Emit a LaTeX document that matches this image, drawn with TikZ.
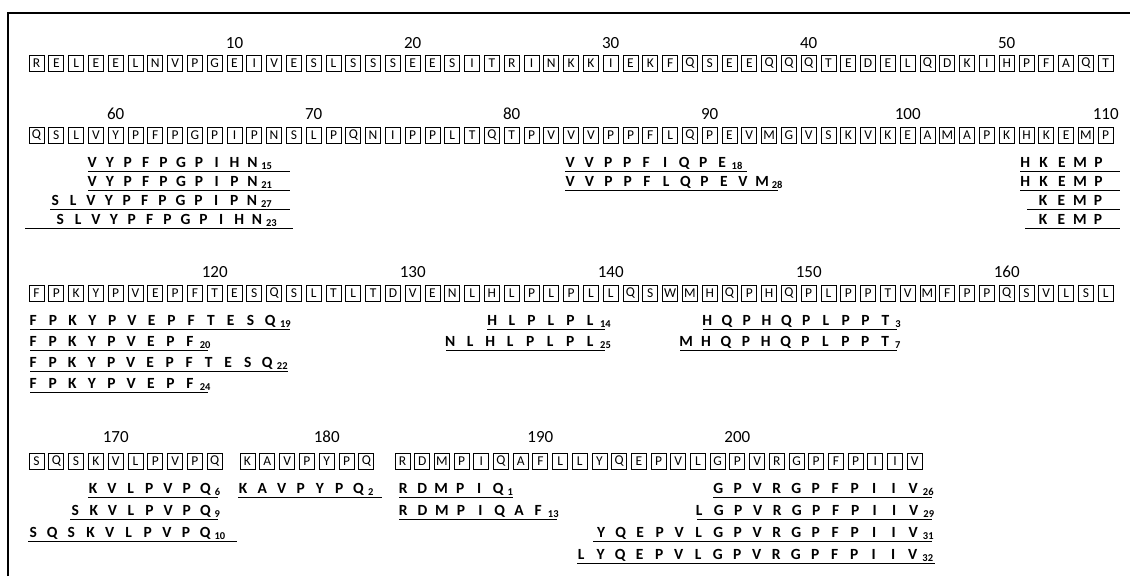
\documentclass[tikz,border=0pt]{standalone}
\usepackage{fontspec}
\setmainfont{Carlito}
\newlength\pitchlen
\def\splA#1{\ifx#1\relax\else\makebox[\pitchlen]{#1}\expandafter\splA\fi}
\newcommand\spl[1]{\splA#1\relax}
\newcommand\subsz{\fontsize{10.5}{10.5}\selectfont}
\tikzset{
  aa/.style={draw, line width=0.9pt, minimum width=15pt, minimum height=16pt, inner sep=0pt, font=\fontsize{13.5}{13.5}\selectfont},
  lbl/.style={inner sep=0pt, font=\fontsize{17}{17}\selectfont},
  pep/.style={anchor=base west, inner sep=0pt, font=\fontsize{15.5}{15.5}\selectfont\bfseries},
  ul/.style={line width=1.3pt},
  frame/.style={line width=2.5pt}
}
\newcommand\boxrow[5]{\foreach \c [count=\i] in {#5} {\node[aa] (#1-\i) at ({#2+7.5+(\i-1)*#3},#4) {\c};}}
\newcommand\pep[8]{%
  \setlength\pitchlen{#3pt}%
  \node[pep] (#1) at ({#2-#3/2},{#4+5}) {\spl{#5}\raisebox{-2.5pt}{\subsz #6}};
  \draw[ul] (#7,{#4+9.5}) -- (#8,{#4+9.5});
}
\begin{document}
\begin{tikzpicture}[x=1pt,y=-1pt]
\useasboundingbox (0,0) rectangle (1130,576);
\draw[frame] (8,576) -- (8,13) -- (1130,13);
% row 1
\boxrow{r1}{29}{19.8}{63}{R,E,L,E,E,L,N,V,P,G,E,I,V,E,S,L,S,S,S,E,E,S,I,T,R,I,N,K,K,I,E,K,F,Q,S,E,E,Q,Q,Q,T,E,D,E,L,Q,D,K,I,H,P,F,A,Q,T}
\node[lbl] (l10) at (r1-11 |- 0,43) {10};
\node[lbl] (l20) at (r1-20 |- 0,43) {20};
\node[lbl] (l30) at (r1-30 |- 0,43) {30};
\node[lbl] (l40) at (r1-40 |- 0,43) {40};
\node[lbl] (l50) at (r1-50 |- 0,43) {50};
% row 2
\boxrow{r2}{29}{19.8}{135}{Q,S,L,V,Y,P,F,P,G,P,I,P,N,S,L,P,Q,N,I,P,P,L,T,Q,T,P,V,V,V,P,P,F,L,Q,P,E,V,M,G,V,S,K,V,K,E,A,M,A,P,K,H,K,E,M,P}
\node[lbl] (l60) at (r2-5 |- 0,114) {60};
\node[lbl] (l70) at (r2-15 |- 0,114) {70};
\node[lbl] (l80) at (r2-25 |- 0,114) {80};
\node[lbl] (l90) at (r2-35 |- 0,114) {90};
\node[lbl] (l100) at (r2-45 |- 0,114) {100};
\node[lbl] (l110) at (r2-55 |- 0,114) {110};
\pep{p15}{92}{17.8}{162}{VYPFPGPIHN}{15}{88}{290}
\pep{p21}{92}{17.8}{181}{VYPFPGPIPN}{21}{88}{290}
\pep{p27}{55}{17.9}{200}{SLVYPFPGPIPN}{27}{50}{290}
\pep{p23}{60}{17.9}{219}{SLVYPFPGPIHN}{23}{25}{293}
\pep{p18}{570}{19}{162}{VVPPFIQPE}{18}{565}{747}
\pep{p28}{570}{19.2}{181}{VVPPFLQPEVM}{28}{565}{778}
\pep{pa}{1025}{18.3}{162}{HKEMP}{}{1020}{1120}
\pep{pb}{1025}{18.3}{181}{HKEMP}{}{1020}{1120}
\pep{pc}{1043}{18.3}{200}{KEMP}{}{1027}{1120}
\pep{pd}{1043}{18.3}{219}{KEMP}{}{1025}{1120}
% row 3
\boxrow{r3}{29}{19.8}{293}{F,P,K,Y,P,V,E,P,F,T,E,S,Q,S,L,T,L,T,D,V,E,N,L,H,L,P,L,P,L,L,Q,S,W,M,H,Q,P,H,Q,P,L,P,P,T,V,M,F,P,P,Q,S,V,L,S,L}
\node[lbl] (l120) at (r3-10 |- 0,272) {120};
\node[lbl] (l130) at (r3-20 |- 0,272) {130};
\node[lbl] (l140) at (r3-30 |- 0,272) {140};
\node[lbl] (l150) at (r3-40 |- 0,272) {150};
\node[lbl] (l160) at (r3-50 |- 0,272) {160};
\pep{p19}{33}{19.75}{320}{FPKYPVEPFTESQ}{19}{30}{290}
\pep{p20}{33}{19.6}{341}{FPKYPVEPF}{20}{30}{208}
\pep{p22}{33}{19.5}{362}{FPKYPVEPFTESQ}{22}{30}{288}
\pep{p24}{33}{19.6}{383}{FPKYPVEPF}{24}{30}{208}
\pep{p14}{492}{19.6}{320}{HLPLPL}{14}{487}{605}
\pep{p25}{450}{20}{341}{NLHLPLPL}{25}{446}{605}
\pep{p3}{707}{19.8}{320}{HQPHQPLPPT}{3}{703}{897}
\pep{p7}{686}{19.9}{341}{MHQPHQPLPPT}{7}{680}{897}
% row 4
\boxrow{r4a}{29}{19.8}{461}{S,Q,S,K,V,L,P,V,P,Q}
\boxrow{r4b}{240}{19.8}{461}{K,A,V,P,Y,P,Q}
\boxrow{r4c}{395}{19.7}{461}{R,D,M,P,I,Q,A,F,L,L,Y,Q,E,P,V,L,G,P,V,R,G,P,F,P,I,I,V}
\node[lbl] (l170) at (r4a-5 |- 0,437) {170};
\node[lbl] (l180) at (r4b-5 |- 0,437) {180};
\node[lbl] (l190) at (r4c-8 |- 0,437) {190};
\node[lbl] (l200) at (r4c-18 |- 0,437) {200};
\pep{p6}{93}{18.7}{488}{KVLPVPQ}{6}{88}{218}
\pep{p2}{243}{19.2}{488}{KAVPYPQ}{2}{238}{382}
\pep{p9}{75}{18.6}{510}{SKVLPVPQ}{9}{70}{218}
\pep{p10}{33}{19.1}{532}{SQSKVLPVPQ}{10}{28}{237}
\pep{p1}{403}{19}{488}{RDMPIQ}{1}{399}{513}
\pep{p13}{403}{19.3}{510}{RDMPIQAF}{13}{399}{557}
\pep{p26}{718}{19.5}{488}{GPVRGPFPIIV}{26}{713}{932}
\pep{p29}{699}{19.5}{510}{LGPVRGPFPIIV}{29}{697}{932}
\pep{p31}{601}{19.5}{532}{YQEPVLGPVRGPFPIIV}{31}{593}{932}
\pep{p32}{581}{19.5}{554}{LYQEPVLGPVRGPFPIIV}{32}{577}{935}
\end{tikzpicture}
\end{document}
